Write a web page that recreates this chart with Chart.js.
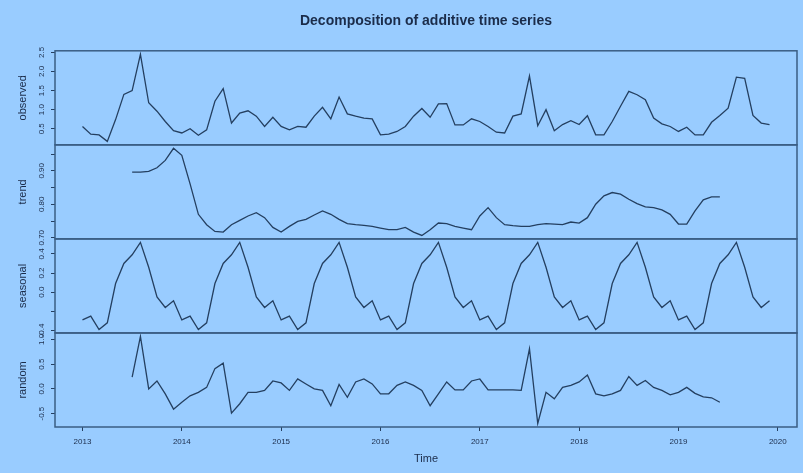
<!DOCTYPE html>
<html>
<head>
<meta charset="utf-8">
<script src="https://cdn.jsdelivr.net/npm/chart.js@4/dist/chart.umd.min.js"></script>
<style>
  body { margin: 0; background: #99ccff; }
  #wrap { width: 803px; height: 473px; }
</style>
</head>
<body>
<div id="wrap"><canvas id="chart" width="803" height="473"></canvas></div>
<script>
// monthly series, Jan 2013 .. Dec 2019
const startYear = 2013;
const freq = 12;

const observed = [
    0.56, 0.36, 0.34, 0.17, 0.74, 1.40, 1.50, 2.45, 1.18, 0.96, 0.69, 0.45,
    0.39, 0.50, 0.33, 0.47, 1.22, 1.55, 0.65, 0.91, 0.97, 0.83, 0.56, 0.80,
    0.56, 0.47, 0.56, 0.54, 0.83, 1.06, 0.76, 1.33, 0.89, 0.83, 0.78, 0.76,
    0.34, 0.36, 0.43, 0.56, 0.83, 1.03, 0.80, 1.15, 1.16, 0.60, 0.60, 0.76,
    0.69, 0.56, 0.41, 0.39, 0.83, 0.89, 1.88, 0.58, 1.00, 0.45, 0.61, 0.71,
    0.61, 0.84, 0.34, 0.34, 0.69, 1.09, 1.48, 1.39, 1.26, 0.78, 0.63, 0.56,
    0.43, 0.54, 0.34, 0.34, 0.67, 0.85, 1.04, 1.85, 1.82, 0.85, 0.65, 0.61
];

const trend = [
    null, null, null, null, null, null, 0.896, 0.896, 0.898, 0.909, 0.931, 0.967,
    0.946, 0.861, 0.770, 0.739, 0.719, 0.717, 0.739, 0.752, 0.765, 0.775, 0.760, 0.731,
    0.717, 0.734, 0.749, 0.755, 0.768, 0.780, 0.770, 0.755, 0.742, 0.739, 0.737, 0.734,
    0.729, 0.724, 0.724, 0.731, 0.717, 0.707, 0.724, 0.744, 0.742, 0.734, 0.729, 0.724,
    0.765, 0.790, 0.760, 0.739, 0.736, 0.734, 0.734, 0.739, 0.742, 0.741, 0.739, 0.747,
    0.744, 0.760, 0.800, 0.825, 0.835, 0.830, 0.815, 0.802, 0.792, 0.790, 0.783, 0.770,
    0.741, 0.741, 0.780, 0.813, 0.822, 0.822, null, null, null, null, null, null
];

const seasonal = [
    -0.29, -0.25, -0.39, -0.32, 0.09, 0.30, 0.39, 0.52, 0.26, -0.05, -0.16, -0.09,
    -0.29, -0.25, -0.39, -0.32, 0.09, 0.30, 0.39, 0.52, 0.26, -0.05, -0.16, -0.09,
    -0.29, -0.25, -0.39, -0.32, 0.09, 0.30, 0.39, 0.52, 0.26, -0.05, -0.16, -0.09,
    -0.29, -0.25, -0.39, -0.32, 0.09, 0.30, 0.39, 0.52, 0.26, -0.05, -0.16, -0.09,
    -0.29, -0.25, -0.39, -0.32, 0.09, 0.30, 0.39, 0.52, 0.26, -0.05, -0.16, -0.09,
    -0.29, -0.25, -0.39, -0.32, 0.09, 0.30, 0.39, 0.52, 0.26, -0.05, -0.16, -0.09,
    -0.29, -0.25, -0.39, -0.32, 0.09, 0.30, 0.39, 0.52, 0.26, -0.05, -0.16, -0.09
];

const random = [
    null, null, null, null, null, null, 0.24, 1.06, 0.00, 0.16, -0.10, -0.41,
    -0.27, -0.14, -0.07, 0.03, 0.41, 0.52, -0.49, -0.30, -0.07, -0.07, -0.03, 0.16,
    0.12, -0.03, 0.20, 0.10, 0.00, -0.03, -0.34, 0.09, -0.17, 0.14, 0.20, 0.10,
    -0.10, -0.10, 0.07, 0.14, 0.07, -0.03, -0.34, -0.10, 0.14, -0.02, -0.02, 0.16,
    0.20, -0.02, -0.02, -0.02, -0.02, -0.03, 0.81, -0.70, -0.07, -0.20, 0.03, 0.07,
    0.14, 0.28, -0.10, -0.14, -0.10, -0.03, 0.25, 0.07, 0.17, 0.03, -0.03, -0.12,
    -0.07, 0.03, -0.09, -0.16, -0.18, -0.27, null, null, null, null, null, null
];

// axis ticks (and which ones R actually labelled)
const yearTicks = [2013, 2014, 2015, 2016, 2017, 2018, 2019, 2020];
const obsTicks = [0.5, 1.0, 1.5, 2.0, 2.5];
const obsLabels = ['0.5', '1.0', '1.5', '2.0', '2.5'];
const trendTicks = [0.70, 0.75, 0.80, 0.85, 0.90, 0.95];
const trendLabels = ['0.70', '', '0.80', '', '0.90', ''];
const seasTicks = [-0.4, -0.2, 0.0, 0.2, 0.4];
const seasLabels = ['-0.4', '', '0.0', '0.2', '0.4'];
const randTicks = [-0.5, 0.0, 0.5, 1.0];
const randLabels = ['-0.5', '0.0', '0.5', '1.0'];

const bg = '#99ccff';
const lineColor = '#243f60';
const frameColor = '#3a5d84';
const textColor = '#1b2c4a';
const fontFamily = '"Liberation Sans", Arial, sans-serif';

function toPoints(arr) {
    return arr.map((v, i) => ({ x: startYear + i / freq, y: v }));
}

// R style axis range: data range stretched by 4% on each side
function rRange(arr) {
    const vals = arr.filter(v => v !== null);
    const lo = Math.min(...vals), hi = Math.max(...vals);
    const pad = (hi - lo) * 0.04;
    return { min: lo - pad, max: hi + pad };
}

const xEnd = startYear + (observed.length - 1) / freq;
const xPad = (xEnd - startYear) * 0.04;

const panels = [
    { id: 'yObs', title: 'observed', data: observed, ticks: obsTicks, labels: obsLabels },
    { id: 'yTrend', title: 'trend', data: trend, ticks: trendTicks, labels: trendLabels },
    { id: 'ySeas', title: 'seasonal', data: seasonal, ticks: seasTicks, labels: seasLabels },
    { id: 'yRand', title: 'random', data: random, ticks: randTicks, labels: randLabels }
];

function yScale(p) {
    const r = rRange(p.data);
    return {
        type: 'linear',
        position: 'left',
        stack: 'panels',
        stackWeight: 1,
        min: r.min,
        max: r.max,
        afterBuildTicks: axis => { axis.ticks = p.ticks.map(v => ({ value: v })); },
        afterFit: axis => { axis.width = 55; },
        ticks: { display: false },
        grid: { drawOnChartArea: false, drawTicks: true, tickLength: 4, color: lineColor, lineWidth: 1 },
        border: { display: false },
        title: {
            display: true,
            text: p.title,
            color: textColor,
            font: { family: fontFamily, size: 11 },
            padding: { top: 16, bottom: 0 }
        }
    };
}

const scales = {
    x: {
        type: 'linear',
        position: 'bottom',
        min: startYear - xPad,
        max: xEnd + xPad,
        afterBuildTicks: axis => { axis.ticks = yearTicks.map(v => ({ value: v })); },
        afterFit: axis => { axis.height = 46; },
        ticks: {
            color: textColor,
            font: { family: fontFamily, size: 8 },
            padding: 6,
            maxRotation: 0,
            callback: v => String(v)
        },
        grid: { drawOnChartArea: false, drawTicks: true, tickLength: 4, color: lineColor },
        border: { display: false },
        title: {
            display: true,
            text: 'Time',
            color: textColor,
            font: { family: fontFamily, size: 11 },
            padding: { top: 0, bottom: 7 }
        }
    }
};
// later scales are stacked on top, so add the bottom panel first
panels.slice().reverse().forEach(p => { scales[p.id] = yScale(p); });

const panelFrames = {
    id: 'panelFrames',
    beforeDraw(chart) {
        const ctx = chart.ctx;
        ctx.save();
        ctx.fillStyle = bg;
        ctx.fillRect(0, 0, chart.width, chart.height);
        ctx.restore();
    },
    afterDraw(chart) {
        const { ctx, chartArea } = chart;
        ctx.save();
        ctx.strokeStyle = frameColor;
        ctx.lineWidth = 1.5;
        ctx.fillStyle = textColor;
        ctx.font = '8px ' + fontFamily;
        ctx.textAlign = 'center';
        ctx.textBaseline = 'middle';
        panels.forEach(p => {
            const s = chart.scales[p.id];
            ctx.strokeRect(chartArea.left, s.top, chartArea.right - chartArea.left, s.bottom - s.top);
            p.ticks.forEach((v, i) => {
                if (!p.labels[i]) return;
                ctx.save();
                ctx.translate(42, s.getPixelForValue(v));
                ctx.rotate(-Math.PI / 2);
                ctx.fillText(p.labels[i], 0, 0);
                ctx.restore();
            });
        });
        ctx.restore();
    }
};

new Chart(document.getElementById('chart'), {
    type: 'line',
    data: {
        datasets: panels.map(p => ({
            label: p.title,
            data: toPoints(p.data),
            yAxisID: p.id,
            xAxisID: 'x',
            borderColor: lineColor,
            borderWidth: 1.3,
            pointRadius: 0,
            tension: 0,
            fill: false,
            spanGaps: false
        }))
    },
    options: {
        responsive: false,
        animation: false,
        layout: { padding: { left: 0, right: 6, top: 0, bottom: 0 } },
        plugins: {
            legend: { display: false },
            tooltip: { enabled: false },
            title: {
                display: true,
                fullSize: false,
                text: 'Decomposition of additive time series',
                color: textColor,
                font: { family: fontFamily, size: 14, weight: 'bold' },
                padding: { top: 13, bottom: 21 }
            }
        },
        scales: scales
    },
    plugins: [panelFrames]
});
</script>
</body>
</html>
